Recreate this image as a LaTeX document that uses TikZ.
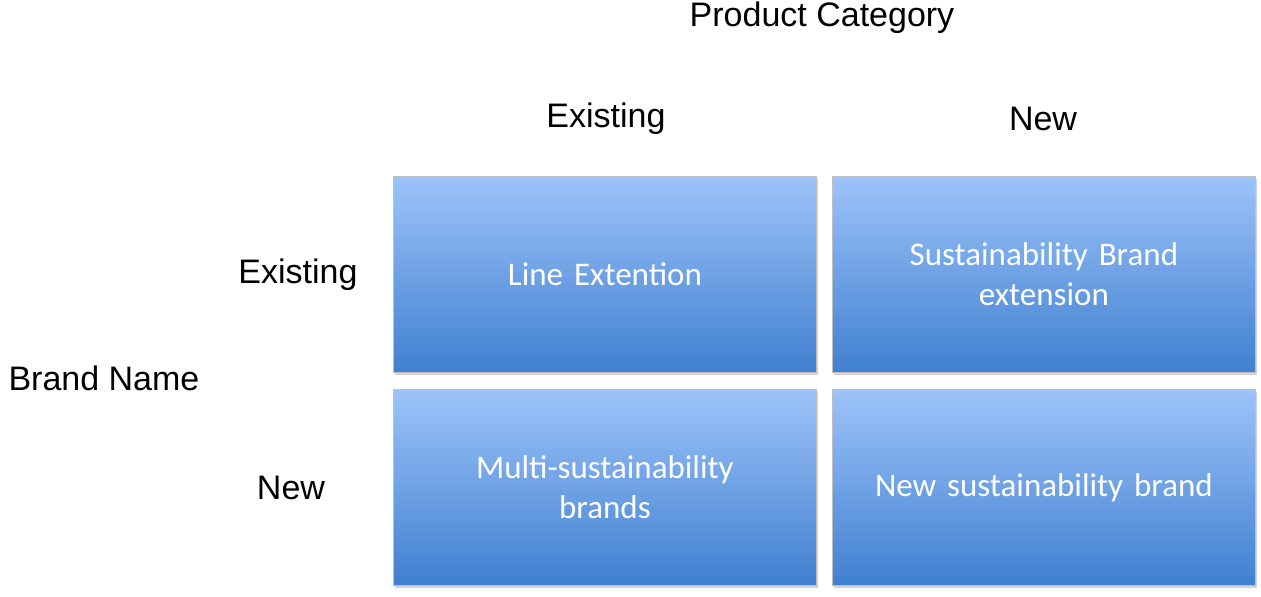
\documentclass[tikz,border=0pt]{standalone}
\usepackage{fontspec}
\setmainfont{Liberation Sans}
\newfontfamily\boxfont{Carlito}
\usetikzlibrary{shadows}
\begin{document}
\begin{tikzpicture}[x=0.5pt,y=-0.5pt,
  cell/.style={draw=white!75!black,line width=0.4pt,top color=topc,bottom color=botc,
    minimum width=211.5pt,minimum height=98pt,anchor=north west,inner sep=0pt,
    text=white,font=\boxfont\fontsize{16.5}{20}\selectfont,align=center,text width=200pt,
    drop shadow={shadow xshift=1pt,shadow yshift=-1.5pt,opacity=0.35}},
  lab/.style={font=\fontsize{17}{20}\selectfont}]
\definecolor{topc}{HTML}{9DC3FA}
\definecolor{botc}{HTML}{4080D0}
\useasboundingbox (0,0) rectangle (1261,596);
\node[cell] (a) at (393,176) {Line Extention};
\node[cell] (b) at (832,176) {Sustainability Brand\\extension};
\node[cell] (c) at (393,389) {Multi-sustainability\\brands};
\node[cell] (d) at (832,389) {New sustainability brand};
\node[lab] (pc) at (822,18) {Product Category};
\node[lab] (e1) at (606,119) {Existing};
\node[lab] (n1) at (1043,119) {New};
\node[lab] (e2) at (298,275) {Existing};
\node[lab] (bn) at (104,378) {Brand Name};
\node[lab] (n2) at (291,488) {New};
\end{tikzpicture}
\end{document}
